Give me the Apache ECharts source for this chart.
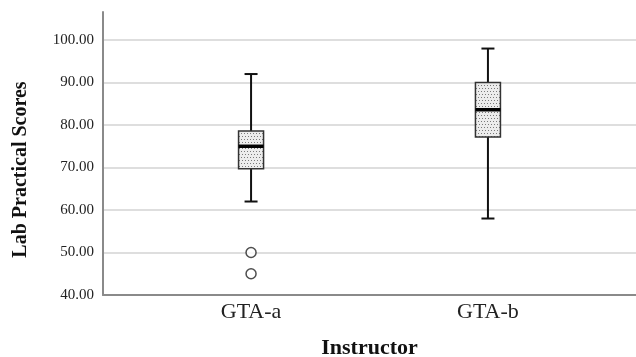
<!DOCTYPE html>
<html>
<head>
<meta charset="utf-8">
<script src="https://cdn.jsdelivr.net/npm/echarts@6/dist/echarts.min.js"></script>
<style>
html,body{margin:0;padding:0;background:#fff;}
#chart{width:636px;height:357px;}
</style>
</head>
<body>
<div id="chart"></div>
<script>
// ---- data ----
const categories = ['GTA-a', 'GTA-b'];
const whiskerLow = [62, 58];
const q1 = [69.7, 77.2];
const median = [75, 83.6];
const q3 = [78.6, 90];
const whiskerHigh = [92, 98];
const outlierCategory = ['GTA-a', 'GTA-a'];
const outlierValue = [50, 45];
const yTicks = [40, 50, 60, 70, 80, 90, 100];

// ---- layout helpers (slot placement on the category axis) ----
const slotCount = 9;
const slotOf = [2, 6];
const axisData = Array(slotCount).fill('');
categories.forEach((c, i) => { axisData[slotOf[i]] = c; });

const boxData = categories.map((c, i) => [slotOf[i], whiskerLow[i], q1[i], median[i], q3[i], whiskerHigh[i]]);
const outlierData = outlierValue.map((v, i) => [slotOf[categories.indexOf(outlierCategory[i])], v]);

// dotted fill pattern
const pc = document.createElement('canvas');
pc.width = 6; pc.height = 6;
const pctx = pc.getContext('2d');
pctx.fillStyle = '#ececec';
pctx.fillRect(0, 0, 6, 6);
pctx.fillStyle = '#7a7a7a';
pctx.fillRect(1, 1, 1, 1);
pctx.fillRect(4, 1, 1, 1);
pctx.fillRect(2, 4, 1, 1);
pctx.fillRect(5, 4, 1, 1);

const serif = '"Liberation Serif", "DejaVu Serif", serif';
const chart = echarts.init(document.getElementById('chart'));

chart.setOption({
  animation: false,
  backgroundColor: '#ffffff',
  grid: { left: 103, right: 0, top: 12, bottom: 62, containLabel: false, outerBoundsMode: 'none' },
  xAxis: {
    type: 'category',
    data: axisData,
    boundaryGap: true,
    name: 'Instructor',
    nameLocation: 'middle',
    nameGap: 42,
    nameTextStyle: { fontFamily: serif, fontSize: 22, fontWeight: 'bold', color: '#111' },
    axisLine: { lineStyle: { color: '#8a8a8a', width: 2 } },
    axisTick: { show: false },
    axisLabel: { interval: 0, fontFamily: serif, fontSize: 22, color: '#222', margin: 6 },
    splitLine: { show: false }
  },
  yAxis: {
    type: 'value',
    min: yTicks[0],
    max: 106.6,
    interval: 10,
    name: 'Lab Practical Scores',
    nameLocation: 'middle',
    nameGap: 72,
    nameRotate: 90,
    nameTextStyle: { fontFamily: serif, fontSize: 20, fontWeight: 'bold', color: '#111', padding: [0, 32, 0, 0] },
    axisLine: { show: true, lineStyle: { color: '#8a8a8a', width: 2 } },
    axisTick: { show: false },
    axisLabel: {
      fontFamily: serif, fontSize: 15, color: '#222', margin: 9,
      showMaxLabel: false,
      formatter: v => (yTicks.indexOf(v) >= 0 ? v.toFixed(2) : '')
    },
    splitLine: {
      show: true,
      lineStyle: { color: ['#d3d3d3','#d3d3d3','#d3d3d3','#d3d3d3','#d3d3d3','#d3d3d3','#d3d3d3','rgba(0,0,0,0)'], width: 1.5 }
    }
  },
  series: [
    {
      type: 'custom',
      data: boxData,
      encode: { x: 0, y: [1, 2, 3, 4, 5] },
      renderItem: function (params, api) {
        const x = api.value(0);
        const pLow = api.coord([x, api.value(1)]);
        const pQ1 = api.coord([x, api.value(2)]);
        const pMed = api.coord([x, api.value(3)]);
        const pQ3 = api.coord([x, api.value(4)]);
        const pHigh = api.coord([x, api.value(5)]);
        const cx = pMed[0];
        const hw = 12.5, cap = 6.5;
        const lineStyle = { stroke: '#111', lineWidth: 2 };
        return {
          type: 'group',
          children: [
            { type: 'line', shape: { x1: cx, y1: pHigh[1], x2: cx, y2: pQ3[1] }, style: lineStyle },
            { type: 'line', shape: { x1: cx, y1: pQ1[1], x2: cx, y2: pLow[1] }, style: lineStyle },
            { type: 'line', shape: { x1: cx - cap, y1: pHigh[1], x2: cx + cap, y2: pHigh[1] }, style: lineStyle },
            { type: 'line', shape: { x1: cx - cap, y1: pLow[1], x2: cx + cap, y2: pLow[1] }, style: lineStyle },
            { type: 'rect', shape: { x: cx - hw, y: pQ3[1], width: hw * 2, height: pQ1[1] - pQ3[1] },
              style: { fill: { image: pc, repeat: 'repeat' }, stroke: '#333', lineWidth: 1.5 } },
            { type: 'line', shape: { x1: cx - hw, y1: pMed[1], x2: cx + hw, y2: pMed[1] }, style: { stroke: '#000', lineWidth: 3.5 } }
          ]
        };
      }
    },
    {
      type: 'scatter',
      data: outlierData,
      symbol: 'circle',
      symbolSize: 10,
      itemStyle: { color: '#fff', borderColor: '#222', borderWidth: 1.5 }
    }
  ]
});
</script>
</body>
</html>
